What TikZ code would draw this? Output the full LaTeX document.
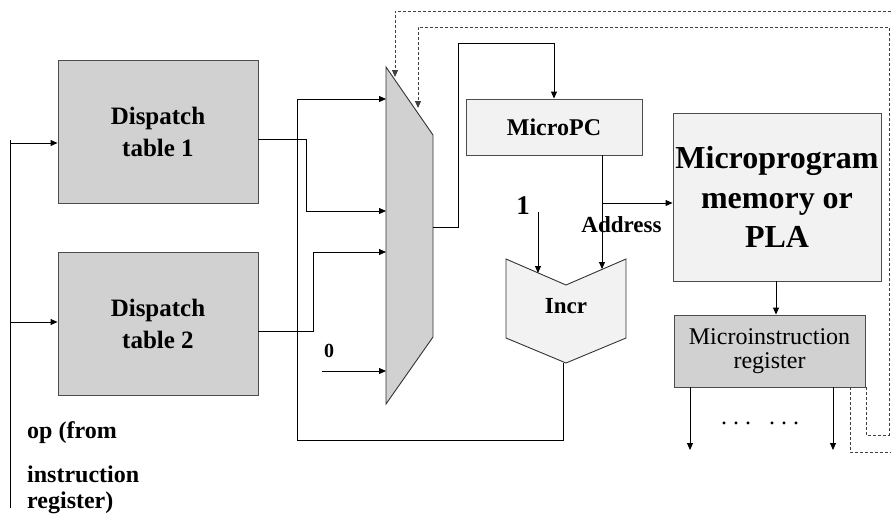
\documentclass[tikz,border=0pt]{standalone}
\usepackage{fontspec}
\setmainfont{Liberation Serif}
\usetikzlibrary{arrows.meta}
\begin{document}
\begin{tikzpicture}[x=1pt,y=-1pt,
  wire/.style={line width=0.9pt, black},
  arr/.style={wire, -{Triangle[length=7pt,width=6pt]}},
  fb/.style={line width=0.9pt, black!75, dash pattern=on 3pt off 2pt},
  fbarr/.style={fb, -{Triangle[length=7pt,width=6pt]}},
  darkbox/.style={draw=black!70, line width=0.9pt, fill=black!18, inner sep=0pt, align=center},
  lightbox/.style={draw=black!70, line width=0.9pt, fill=black!5, inner sep=0pt, align=center},
  lbl/.style={inner sep=0pt, font=\bfseries\fontsize{24}{26}\selectfont}
]
\useasboundingbox (0,0) rectangle (891,517);
\clip (0,0) rectangle (891,517);

% dispatch tables
\node[darkbox, minimum width=200pt, minimum height=143pt,
      font=\bfseries\fontsize{25}{32}\selectfont] (dt1) at (158,131.5) {Dispatch\\table 1};
\node[darkbox, minimum width=200pt, minimum height=143pt,
      font=\bfseries\fontsize{25}{32}\selectfont] (dt2) at (158,323.5) {Dispatch\\table 2};

% multiplexer
\coordinate (mtl) at (386,67);
\coordinate (mtr) at (433,135);
\coordinate (mbr) at (433,337);
\coordinate (mbl) at (386,404);
\draw[fill=black!18, draw=black!80, line width=0.9pt] (mtl)--(mtr)--(mbr)--(mbl)--cycle;
\coordinate (min1) at (386,99);
\coordinate (min2) at (386,211);
\coordinate (min3) at (386,252);
\coordinate (min4) at (386,371);
\coordinate (mout) at (433,227);

% MicroPC, microprogram memory, microinstruction register
\node[lightbox, minimum width=176pt, minimum height=56pt,
      font=\bfseries\fontsize{24}{26}\selectfont] (upc) at (554,127) {MicroPC};
\node[lightbox, minimum width=208pt, minimum height=168pt,
      font=\bfseries\fontsize{32}{39.5}\selectfont] (mem) at (777,197) {Microprogram\\memory or\\PLA};
\node[darkbox, minimum width=191pt, minimum height=72pt,
      font=\fontsize{24}{24.5}\selectfont] (reg) at (769.5,351) {Microinstruction\\register};

% incrementer
\draw[fill=black!5, draw=black!80, line width=0.9pt]
  (506,259)--(566,285)--(626,259)--(626,338)--(566,363)--(506,338)--cycle;
\node[lbl, font=\bfseries\fontsize{23}{25}\selectfont] (incr) at (566,306) {Incr};
\coordinate (incrout) at (563,363);
\coordinate (incrL) at (538,273);
\coordinate (incrR) at (602,269);

% opcode bus
\coordinate (opTop) at (10,140);
\coordinate (opBot) at (10,508);
\coordinate (op1) at (10,143);
\coordinate (op2) at (10,322);
\draw[wire] (opTop) -- (opBot);
\draw[arr] (op1) -- (op1 -| dt1.west);
\draw[arr] (op2) -- (op2 -| dt2.west);
\node[lbl, anchor=base west] (oplbl) at (27,438) {op (from};
\node[lbl, anchor=base west] (instrlbl) at (27,482) {instruction};
\node[lbl, anchor=base west] (reglbl) at (27,508) {register)};

% multiplexer inputs
\coordinate (d1o) at (258,139);
\coordinate (d2o) at (258,331);
\draw[arr] (d1o) -| (306,211) -- (min2);
\draw[arr] (d2o) -| (313,252) -- (min3);
\coordinate (zin) at (322,371);
\draw[arr] (zin) -- (min4);
\node[lbl, font=\bfseries\fontsize{20}{22}\selectfont] (zero) at (329,351) {0};
\draw[arr] (incrout) -- (563,440) -| (297,99) -- (min1);

% multiplexer output to MicroPC
\draw[arr] (mout) -| (458,43) -| (upc.north);

% MicroPC output: address and increment
\coordinate (upco) at (602,155);
\coordinate (addr) at (602,203);
\draw[arr] (upco) -- (incrR);
\draw[arr] (addr) -- (addr -| mem.west);
\node[lbl, font=\bfseries\fontsize{23}{25}\selectfont] (addrlbl) at (621.5,225) {Address};
\node[lbl, font=\bfseries\fontsize{27}{29}\selectfont] (one) at (523,206) {1};
\coordinate (onein) at (538,212);
\draw[arr] (onein) -- (incrL);

% memory to register, register outputs
\coordinate (memo) at (776,281);
\draw[arr] (memo) -- (memo |- reg.north);
\coordinate (ro1) at (690,387);
\coordinate (ro2) at (833,387);
\draw[arr] (ro1) -- (690,450);
\draw[arr] (ro2) -- (833,450);
\node[inner sep=0pt, anchor=base, font=\fontsize{24}{26}\selectfont] (dots) at (760,424) {.\ .\ .\ \ \ .\ .\ .};

% feedback paths to the multiplexer select
\coordinate (fbA) at (866,387);
\coordinate (fbB) at (850,387);
\coordinate (selA) at (418,108);
\coordinate (selB) at (395,77);
\draw[fbarr] (fbA) -- (866,435) -- (889,435) -- (889,27) -| (selA);
\draw[fbarr] (fbB) -- (850,452) -- (905,452) -- (905,11) -| (selB);
\end{tikzpicture}
\end{document}
